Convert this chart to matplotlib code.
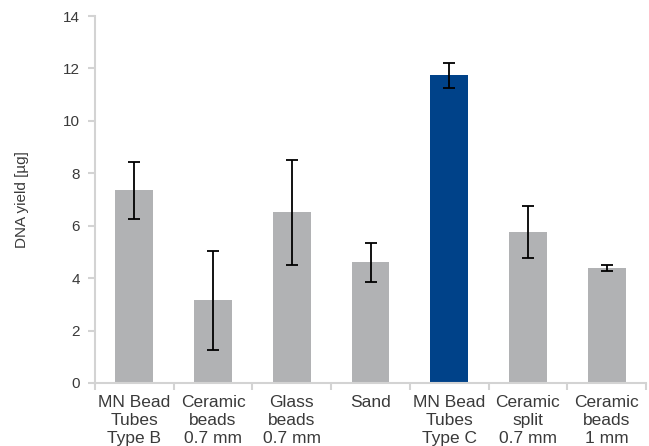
import matplotlib
matplotlib.use("Agg")
import matplotlib.pyplot as plt
import numpy as np

plt.rcParams['font.family'] = ['Liberation Sans', 'DejaVu Sans']

# data
labels = ["MN Bead\nTubes\nType B", "Ceramic\nbeads\n0.7 mm", "Glass\nbeads\n0.7 mm", "Sand",
          "MN Bead\nTubes\nType C", "Ceramic\nsplit\n0.7 mm", "Ceramic\nbeads\n1 mm"]
yields = [7.35, 3.15, 6.52, 4.6, 11.74, 5.77, 4.38]
errors = [1.08, 1.88, 2.0, 0.75, 0.47, 0.99, 0.12]
colors = ['#B1B2B4'] * 7
colors[4] = '#004289'

text_col = '#3A3A3A'
axis_col = '#D3D3D3'

fig = plt.figure(figsize=(6.49, 4.46), dpi=100)
ax = fig.add_axes([0.1464, 0.1413, 0.8490, 0.8228])

x = np.arange(len(yields))
ax.bar(x, yields, width=0.48, color=colors, zorder=2)
ax.errorbar(x, yields, yerr=errors, fmt='none', ecolor='black', elinewidth=1.3,
            capsize=4.5, capthick=1.3, zorder=3)

ax.set_xlim(-0.5, 6.5)
ax.set_ylim(0, 14)
ax.set_yticks(range(0, 15, 2))
ax.set_xticks(x)
ax.set_xticklabels(labels, fontsize=12.5, color=text_col, linespacing=1.22)
ax.set_xticks(np.arange(-0.5, 7, 1), minor=True)
ax.tick_params(axis='x', which='major', length=0, pad=9)
ax.tick_params(axis='x', which='minor', length=5, width=1.5, color=axis_col, direction='out')
ax.tick_params(axis='y', length=5, width=1.5, color=axis_col, labelsize=11, labelcolor=text_col, pad=6)

for s in ['top', 'right']:
    ax.spines[s].set_visible(False)
for s in ['left', 'bottom']:
    ax.spines[s].set_color(axis_col)
    ax.spines[s].set_linewidth(1.5)

ax.set_ylabel('DNA yield [µg]', fontsize=11, color=text_col, labelpad=24)

plt.savefig('out.png', dpi=100)
